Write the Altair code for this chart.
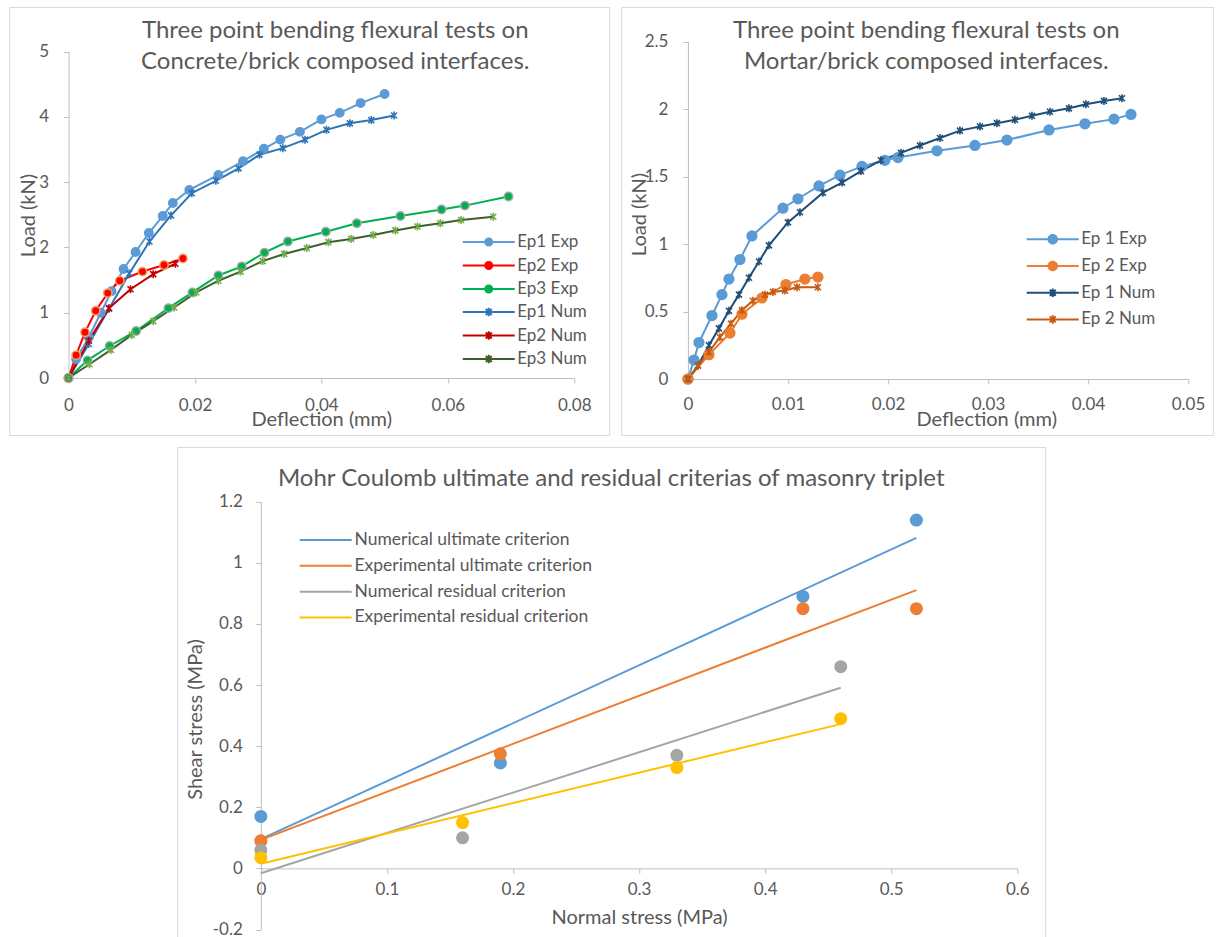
import altair as alt
import pandas as pd

FONT = "Lato"
INK = "#595959"
AXIS_GREY = "#bfbfbf"
FRAME_GREY = "#d9d9d9"

# ---------------- Concrete/brick interfaces: deflection (mm) vs load (kN) ----------------
cb_ep1_exp_x = [0, 0.0012, 0.0032, 0.0051, 0.0068, 0.0087, 0.0106, 0.0127, 0.0149, 0.0165, 0.0191,
                0.0237, 0.0276, 0.0309, 0.0335, 0.0366, 0.0400, 0.0429, 0.0462, 0.0500]
cb_ep1_exp_y = [0, 0.29, 0.62, 1.00, 1.33, 1.67, 1.93, 2.22, 2.48, 2.68, 2.88,
                3.11, 3.32, 3.51, 3.65, 3.77, 3.96, 4.06, 4.21, 4.35]
cb_ep2_exp_x = [0, 0.0012, 0.0026, 0.0043, 0.0062, 0.0081, 0.0117, 0.0151, 0.0181]
cb_ep2_exp_y = [0, 0.35, 0.70, 1.03, 1.30, 1.49, 1.63, 1.73, 1.83]
cb_ep3_exp_x = [0, 0.0030, 0.0065, 0.0107, 0.0158, 0.0196, 0.0237, 0.0274, 0.0310, 0.0347,
                0.0407, 0.0456, 0.0525, 0.0590, 0.0627, 0.0696]
cb_ep3_exp_y = [0, 0.27, 0.49, 0.72, 1.07, 1.31, 1.57, 1.71, 1.92, 2.09,
                2.24, 2.37, 2.48, 2.58, 2.64, 2.78]
cb_ep1_num_x = [0, 0.0032, 0.0064, 0.0096, 0.0128, 0.0162, 0.0195, 0.0233, 0.0269, 0.0302,
                0.0339, 0.0374, 0.0408, 0.0445, 0.0479, 0.0515]
cb_ep1_num_y = [0, 0.52, 1.06, 1.60, 2.09, 2.49, 2.83, 3.02, 3.21, 3.42,
                3.52, 3.65, 3.80, 3.90, 3.95, 4.02]
cb_ep2_num_x = [0, 0.0032, 0.0064, 0.0098, 0.0134, 0.0169]
cb_ep2_num_y = [0, 0.57, 1.07, 1.36, 1.59, 1.75]
cb_ep3_num_x = [0, 0.0033, 0.0067, 0.0100, 0.0134, 0.0167, 0.0202, 0.0237, 0.0272, 0.0307,
                0.0341, 0.0377, 0.0411, 0.0447, 0.0482, 0.0517, 0.0552, 0.0588, 0.0621, 0.0672]
cb_ep3_num_y = [0, 0.21, 0.43, 0.66, 0.87, 1.08, 1.31, 1.49, 1.63, 1.79,
                1.90, 1.99, 2.08, 2.13, 2.19, 2.26, 2.32, 2.37, 2.42, 2.47]

# ---------------- Mortar/brick interfaces ----------------
mb_ep1_exp_x = [0, 0.0006, 0.0011, 0.0024, 0.0034, 0.0041, 0.0052, 0.0064, 0.0095, 0.0110, 0.0131,
                0.0152, 0.0174, 0.0197, 0.0210, 0.0249, 0.0287, 0.0319, 0.0361, 0.0397, 0.0426, 0.0443]
mb_ep1_exp_y = [0, 0.14, 0.27, 0.47, 0.625, 0.74, 0.885, 1.06, 1.265, 1.335, 1.43,
                1.51, 1.575, 1.62, 1.64, 1.69, 1.73, 1.77, 1.845, 1.89, 1.925, 1.96]
mb_ep2_exp_x = [0, 0.0021, 0.0042, 0.0054, 0.0074, 0.0098, 0.0117, 0.0130]
mb_ep2_exp_y = [0, 0.18, 0.34, 0.48, 0.60, 0.70, 0.74, 0.755]
mb_ep1_num_x = [0, 0.0010, 0.0021, 0.0031, 0.0041, 0.0051, 0.0061, 0.0071, 0.0081, 0.0100,
                0.0112, 0.0135, 0.0154, 0.0173, 0.0193, 0.0213, 0.0232, 0.0252, 0.0272, 0.0292,
                0.0309, 0.0327, 0.0344, 0.0362, 0.0381, 0.0398, 0.0416, 0.0434]
mb_ep1_num_y = [0, 0.10, 0.25, 0.375, 0.505, 0.625, 0.75, 0.87, 0.99, 1.16,
                1.235, 1.38, 1.455, 1.54, 1.62, 1.675, 1.73, 1.785, 1.84, 1.87,
                1.895, 1.92, 1.95, 1.98, 2.005, 2.035, 2.06, 2.08]
mb_ep2_num_x = [0, 0.0010, 0.0021, 0.0032, 0.0043, 0.0054, 0.0065, 0.0077, 0.0085, 0.0097, 0.0109, 0.0130]
mb_ep2_num_y = [0, 0.10, 0.20, 0.31, 0.41, 0.51, 0.58, 0.625, 0.645, 0.655, 0.68, 0.68]

# ---------------- Mohr-Coulomb: normal stress vs shear stress (MPa) ----------------
mc_names = ["Numerical ultimate criterion", "Experimental ultimate criterion",
            "Numerical residual criterion", "Experimental residual criterion"]
mc_colors = ["#5b9bd5", "#ed7d31", "#a5a5a5", "#ffc000"]
mc_num_ult_x = [0, 0.19, 0.43, 0.52]
mc_num_ult_y = [0.17, 0.345, 0.89, 1.14]
mc_exp_ult_x = [0, 0.19, 0.43, 0.52]
mc_exp_ult_y = [0.09, 0.375, 0.85, 0.85]
mc_num_res_x = [0, 0.16, 0.33, 0.46]
mc_num_res_y = [0.06, 0.10, 0.37, 0.66]
mc_exp_res_x = [0, 0.16, 0.33, 0.46]
mc_exp_res_y = [0.035, 0.15, 0.33, 0.49]

# tick values
cb_x_ticks = [0, 0.02, 0.04, 0.06, 0.08]
cb_y_ticks = [0, 1, 2, 3, 4, 5]
mb_x_ticks = [0, 0.01, 0.02, 0.03, 0.04, 0.05]
mb_y_ticks = [0, 0.5, 1, 1.5, 2, 2.5]
mc_x_ticks = [0, 0.1, 0.2, 0.3, 0.4, 0.5, 0.6]
mc_y_ticks = [-0.2, 0, 0.2, 0.4, 0.6, 0.8, 1, 1.2]

# marker glyphs (unit box) and legend glyphs (line segment with the marker on it)
STAR = "M-0.75,-0.75L0.75,0.75M-0.75,0.75L0.75,-0.75M0,-1L0,1"
LEG_DOT = ("M-5.2,-0.2H5.2V0.2H-5.2Z"
           "M0.9,0A0.9,0.9,0,1,1,-0.9,0A0.9,0.9,0,1,1,0.9,0Z")
LEG_STAR = "M-5.2,0H5.2M-0.6,-0.6L0.6,0.6M-0.6,0.6L0.6,-0.6M0,-0.85L0,0.85"
LEG_LINE = "M-5.2,0H5.2"


def long_table(entries, xname, yname):
    rows = []
    for name, kind, mark_key, xs, ys in entries:
        for xv, yv in zip(xs, ys):
            rows.append({xname: xv, yname: yv, "series": name, "kind": kind, "mk": mark_key})
    return pd.DataFrame(rows)


def axis(ticks, title, offset, label_pad, title_xy, angle=None):
    kw = dict(values=ticks, labelExpr="toString(datum.value)", offset=offset, grid=False,
              domainColor=AXIS_GREY, domainWidth=1, tickColor=AXIS_GREY, tickSize=5,
              labelFont=FONT, labelFontSize=17, labelColor=INK, labelPadding=label_pad,
              labelFlush=False, labelOverlap=False,
              title=title, titleFont=FONT, titleFontSize=20, titleFontWeight="normal",
              titleColor=INK, titleX=title_xy[0], titleY=title_xy[1],
              titleAlign="center", titleBaseline="middle")
    if angle is not None:
        kw["titleAngle"] = angle
    return alt.Axis(**kw)


def legend(values, path, x, y, row_pad, font_size, **extra):
    return alt.Legend(values=values, title=None, orient="none", legendX=x, legendY=y,
                      symbolType=path, symbolSize=100, symbolOffset=17, labelOffset=20,
                      rowPadding=row_pad, padding=0, labelFont=FONT, labelFontSize=font_size,
                      labelColor=INK, labelLimit=400, symbolOpacity=1, **extra)


def deflection_panel(df, title, title_dx, stroke_dom, stroke_rng, exp_dom, exp_rng, num_dom,
                     x_ticks, y_ticks, g):
    xsc = alt.Scale(domain=[x_ticks[0], x_ticks[-1]], range=g["xr"], nice=False, zero=False)
    ysc = alt.Scale(domain=[y_ticks[0], y_ticks[-1]], range=g["yr"], nice=False, zero=False)
    x = alt.X("defl:Q", scale=xsc,
              axis=axis(x_ticks, "Deflection (mm)", -(g["h"] - g["yr"][0]), g["xlp"], g["xtitle"]))
    y = alt.Y("load:Q", scale=ysc,
              axis=axis(y_ticks, "Load (kN)", -g["xr"][0], g["ylp"], g["ytitle"], angle=-90))
    stroke_scale = alt.Scale(domain=stroke_dom, range=stroke_rng)
    # one stroke legend shared by every layer: lists the numerical series only
    num_leg = legend(num_dom, LEG_STAR, g["leg"][0], g["leg2y"], g["rowpad"], 17,
                     symbolStrokeWidth=2, symbolFillColor="transparent")
    base = alt.Chart(df)
    lines = base.mark_line(strokeWidth=2).encode(
        x=x, y=y, stroke=alt.Stroke("series:N", scale=stroke_scale, legend=num_leg))
    exp_pts = base.transform_filter(alt.datum.kind == "Exp").mark_point(
        shape="circle", filled=True, size=g["dot"], strokeWidth=1.5, opacity=1).encode(
        x=x, y=y,
        fill=alt.Fill("series:N", scale=alt.Scale(domain=exp_dom, range=exp_rng),
                      legend=legend(exp_dom, g["legdot"], g["leg"][0], g["leg"][1], g["rowpad"],
                                    17, symbolStrokeWidth=0)),
        stroke=alt.Stroke("mk:N", scale=stroke_scale, legend=num_leg))
    num_pts = base.transform_filter(alt.datum.kind == "Num").mark_point(
        shape=STAR, filled=False, size=64, strokeWidth=1.6, opacity=1).encode(
        x=x, y=y, stroke=alt.Stroke("mk:N", scale=stroke_scale, legend=num_leg))
    return alt.layer(lines, exp_pts, num_pts).properties(
        width=g["w"], height=g["h"],
        title=alt.TitleParams(text=title, font=FONT, fontSize=24, fontWeight="normal", color=INK,
                              anchor="middle", dx=title_dx, offset=-67, baseline="top",
                              lineHeight=31))


# ---- left panel ----
cb_df = long_table([
    ("Ep1 Exp", "Exp", "Ep1 Exp", cb_ep1_exp_x, cb_ep1_exp_y),
    ("Ep2 Exp", "Exp", "Ep2 Exp ring", cb_ep2_exp_x, cb_ep2_exp_y),
    ("Ep3 Exp", "Exp", "Ep3 Exp ring", cb_ep3_exp_x, cb_ep3_exp_y),
    ("Ep1 Num", "Num", "Ep1 Num", cb_ep1_num_x, cb_ep1_num_y),
    ("Ep2 Num", "Num", "Ep2 Num", cb_ep2_num_x, cb_ep2_num_y),
    ("Ep3 Num", "Num", "Ep3 Num mark", cb_ep3_num_x, cb_ep3_num_y),
], "defl", "load")

left = deflection_panel(
    cb_df, ["Three point bending flexural tests on", "Concrete/brick composed interfaces."], 26,
    ["Ep1 Exp", "Ep2 Exp", "Ep3 Exp", "Ep1 Num", "Ep2 Num", "Ep3 Num",
     "Ep2 Exp ring", "Ep3 Exp ring", "Ep3 Num mark"],
    ["#5b9bd5", "#ff0000", "#00b050", "#2e75b6", "#c00000", "#3f5f2a",
     "#f4a460", "#a5a5a5", "#70ad47"],
    ["Ep1 Exp", "Ep2 Exp", "Ep3 Exp"], ["#5b9bd5", "#ff0000", "#00b050"],
    ["Ep1 Num", "Ep2 Num", "Ep3 Num"],
    cb_x_ticks, cb_y_ticks,
    dict(w=600, h=428, xr=[59.3, 565], yr=[371, 44.5], xlp=14, ylp=15,
         xtitle=[312, 41], ytitle=[-40, 208], dot=70, legdot=LEG_DOT,
         leg=[454, 226.5], leg2y=296.5, rowpad=5.5),
)

# ---- right panel ----
mb_df = long_table([
    ("Ep 1 Exp", "Exp", "Ep 1 Exp", mb_ep1_exp_x, mb_ep1_exp_y),
    ("Ep 2 Exp", "Exp", "Ep 2 Exp", mb_ep2_exp_x, mb_ep2_exp_y),
    ("Ep 1 Num", "Num", "Ep 1 Num", mb_ep1_num_x, mb_ep1_num_y),
    ("Ep 2 Num", "Num", "Ep 2 Num", mb_ep2_num_x, mb_ep2_num_y),
], "defl", "load")

right = deflection_panel(
    mb_df, ["Three point bending flexural tests on", "Mortar/brick composed interfaces."], 9,
    ["Ep 1 Exp", "Ep 2 Exp", "Ep 1 Num", "Ep 2 Num"],
    ["#5b9bd5", "#ed7d31", "#1f4e79", "#c55a11"],
    ["Ep 1 Exp", "Ep 2 Exp"], ["#5b9bd5", "#ed7d31"],
    ["Ep 1 Num", "Ep 2 Num"],
    mb_x_ticks, mb_y_ticks,
    dict(w=592, h=428, xr=[66.7, 566.7], yr=[372, 34.5], xlp=12, ylp=15,
         xtitle=[365, 40], ytitle=[-48, 207], dot=95,
         legdot=LEG_DOT.replace("0.9", "1.05"),
         leg=[406, 223.8], leg2y=277.2, rowpad=8.7),
)

# ---- bottom panel ----
mc_rows = []
for name, xs, ys in zip(mc_names, [mc_num_ult_x, mc_exp_ult_x, mc_num_res_x, mc_exp_res_x],
                        [mc_num_ult_y, mc_exp_ult_y, mc_num_res_y, mc_exp_res_y]):
    for xv, yv in zip(xs, ys):
        mc_rows.append({"sigma": xv, "tau": yv, "criterion": name})
mc_df = pd.DataFrame(mc_rows)

mc_w, mc_h = 868, 492
mc_xr, mc_yr = [83.6, 840], [482.5, 54.7]
zero_px = mc_yr[0] - (0 - mc_y_ticks[0]) / (mc_y_ticks[-1] - mc_y_ticks[0]) * (mc_yr[0] - mc_yr[1])
mc_x = alt.X("sigma:Q",
             scale=alt.Scale(domain=[0, 0.6], range=mc_xr, nice=False, zero=False),
             axis=axis(mc_x_ticks, "Normal stress (MPa)", -(mc_h - zero_px), 8, [461.8, 48.7]))
mc_y = alt.Y("tau:Q",
             scale=alt.Scale(domain=[-0.2, 1.2], range=mc_yr, nice=False, zero=False),
             axis=axis(mc_y_ticks, "Shear stress (MPa)", -mc_xr[0], 13.5, [-65.6, 272], angle=-90))
mc_scale = alt.Scale(domain=mc_names, range=mc_colors)
mc_base = alt.Chart(mc_df)
fits = mc_base.transform_regression("sigma", "tau", groupby=["criterion"]).mark_line(
    strokeWidth=2).encode(
    x=mc_x, y=mc_y,
    color=alt.Color("criterion:N", scale=mc_scale,
                    legend=legend(mc_names, LEG_LINE, 122.7, 84.3, 6.8, 17.5, symbolStrokeWidth=2)))
dots = mc_base.mark_circle(size=170, opacity=1).encode(
    x=mc_x, y=mc_y, color=alt.Color("criterion:N", scale=mc_scale, legend=None))
bottom = alt.layer(fits, dots).properties(
    width=mc_w, height=mc_h,
    title=alt.TitleParams(text="Mohr Coulomb ultimate and residual criterias of masonry triplet",
                          font=FONT, fontSize=24, fontWeight="normal", color=INK,
                          anchor="middle", offset=-44, baseline="top"))

INDEPENDENT = dict(color="independent", fill="independent", stroke="independent")
top_row = alt.hconcat(left, right, spacing=10).resolve_scale(**INDEPENDENT).resolve_legend(**INDEPENDENT)
chart = alt.vconcat(top_row, bottom, spacing=10, center=True)
chart = chart.resolve_scale(**INDEPENDENT).resolve_legend(**INDEPENDENT).properties(
    padding={"left": 8, "top": 6, "right": 0, "bottom": 0}, background="white"
).configure_view(stroke=FRAME_GREY, strokeWidth=1)

chart.save("out.html", embed_options={"renderer": "svg", "actions": False})
